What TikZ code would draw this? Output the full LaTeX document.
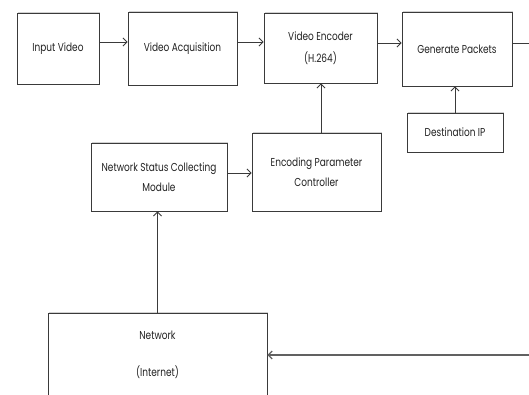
\documentclass[tikz,border=0pt]{standalone}
\usepackage{fontspec}
\setmainfont{Poppins}[FakeStretch=0.78]
\usetikzlibrary{arrows.meta,shadows}
\definecolor{edge}{HTML}{3A3A3A}
\definecolor{txt}{HTML}{222222}
\tikzset{
  blk/.style={draw=edge, line width=0.9pt, fill=white, rectangle, inner sep=0pt,
    align=center, text=txt, font=\fontsize{11.5}{14}\selectfont,
    drop shadow={shadow xshift=1.2pt, shadow yshift=1.2pt, opacity=0.35, fill=gray}},
  arr/.style={draw=edge, line width=0.8pt, -{Straight Barb[length=4pt,width=8pt]}},
  ln/.style={draw=edge, line width=0.8pt}
}
\begin{document}
\begin{tikzpicture}[x=1pt,y=-1pt]
\clip (0,0) rectangle (529,394);
\fill[white] (0,0) rectangle (529,394);
\node[blk, minimum width=82, minimum height=71] (in) at (58,48.5) {Input Video};
\node[blk, minimum width=109, minimum height=73] (acq) at (182.5,48.5) {Video Acquisition};
\node[blk, minimum width=113, minimum height=70] (enc) at (320.5,48) {Video Encoder\\[8pt](H.264)};
\node[blk, minimum width=110, minimum height=74] (gen) at (457,49) {Generate Packets};
\node[blk, minimum width=96, minimum height=39] (dst) at (455,132.5) {Destination IP};
\node[blk, minimum width=129, minimum height=78] (epc) at (316.5,172) {Encoding Parameter\\[6pt]Controller};
\node[blk, minimum width=136, minimum height=68] (nsc) at (159,177) {Network Status Collecting\\[6pt]Module};
\node[blk, minimum width=219, minimum height=84] (net) at (157.5,355) {Network\\[23pt](Internet)};
\coordinate (ra) at (0,42);
\coordinate (rb) at (0,43);
\coordinate (rc) at (0,173);
\coordinate (cx) at (321,0);
\coordinate (out) at (540,43);
\coordinate (back) at (540,355);
\draw[arr] (in.east |- ra) -- (acq.west |- ra);
\draw[arr] (acq.east |- ra) -- (enc.west |- ra);
\draw[arr] (enc.east |- rb) -- (gen.west |- rb);
\draw[ln] (gen.east |- rb) -- (out);
\draw[arr] (dst.north) -- (dst.north |- gen.south);
\draw[arr] (epc.north -| cx) -- (enc.south -| cx);
\draw[arr] (nsc.east |- rc) -- (epc.west |- rc);
\draw[arr] (net.north) -- (net.north |- nsc.south);
\draw[arr, line width=1.1pt, draw=edge!80] (back) -- (net.east);
\end{tikzpicture}
\end{document}
